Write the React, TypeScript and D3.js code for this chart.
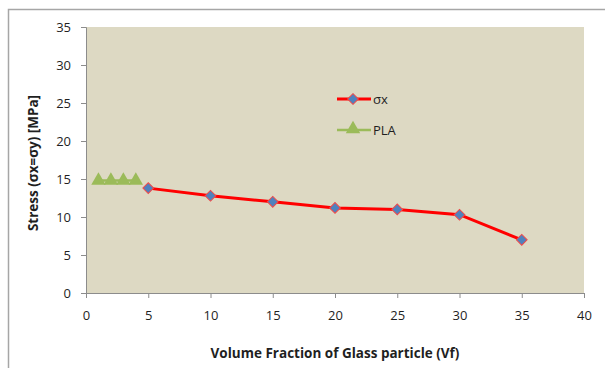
import React, { useRef, useEffect } from "react";
import * as d3 from "d3";

const sigmaX = [5, 10, 15, 20, 25, 30, 35];
const sigmaY = [13.8, 12.8, 12.0, 11.2, 11.0, 10.3, 7.0];
const plaX = [1, 2, 3, 4];
const plaY = [14.8, 14.8, 14.8, 14.8];
const xTicks = [0, 5, 10, 15, 20, 25, 30, 35, 40];
const yTicks = [0, 5, 10, 15, 20, 25, 30, 35];

const font = "'Open Sans', sans-serif";

const App = () => {
    const svgRef = useRef<SVGSVGElement>(null);

    useEffect(() => {
        const svg = d3.select(svgRef.current);
        svg.selectAll("*").remove();

        const left = 86, right = 584, top = 27, bottom = 293;
        const x = d3.scaleLinear().domain([0, 40]).range([left, right]);
        const y = d3.scaleLinear().domain([0, 35]).range([bottom, top]);

        // outer frame (only top and left visible)
        svg.append("path")
            .attr("d", "M8.5,368 L8.5,9.5 L605,9.5")
            .attr("fill", "none")
            .attr("stroke", "#a6a6a6")
            .attr("stroke-width", 1.5);

        svg.append("rect")
            .attr("x", left).attr("y", top)
            .attr("width", right - left).attr("height", bottom - top)
            .attr("fill", "#ddd9c3");

        const xAxis = d3.axisBottom(x).tickValues(xTicks).tickSize(5).tickPadding(13);
        svg.append("g")
            .attr("transform", `translate(0,${bottom})`)
            .call(xAxis)
            .call(g => g.select(".domain").attr("stroke", "#8c8c8c"))
            .call(g => g.selectAll(".tick line").attr("stroke", "#8c8c8c"))
            .call(g => g.selectAll("text")
                .attr("font-family", font).attr("font-size", 13).attr("fill", "#1f1f1f"));

        const yAxis = d3.axisLeft(y).tickValues(yTicks).tickSize(5).tickPadding(10);
        svg.append("g")
            .attr("transform", `translate(${left},0)`)
            .call(yAxis)
            .call(g => g.select(".domain").attr("stroke", "#8c8c8c"))
            .call(g => g.selectAll(".tick line").attr("stroke", "#8c8c8c"))
            .call(g => g.selectAll("text")
                .attr("font-family", font).attr("font-size", 13).attr("fill", "#1f1f1f"));

        // PLA series
        const plaLine = d3.line<number>()
            .x((d, i) => x(plaX[i]))
            .y(d => y(d));
        svg.append("path")
            .datum(plaY)
            .attr("d", plaLine)
            .attr("fill", "none")
            .attr("stroke", "#9bbb59")
            .attr("stroke-width", 2.5);
        const tri = d3.symbol().type(d3.symbolTriangle).size(90);
        svg.selectAll(".pla")
            .data(plaY)
            .join("path")
            .attr("class", "pla")
            .attr("d", tri)
            .attr("transform", (d, i) => `translate(${x(plaX[i])},${y(d)})`)
            .attr("fill", "#9bbb59");

        // sigma x series
        const sLine = d3.line<number>()
            .x((d, i) => x(sigmaX[i]))
            .y(d => y(d));
        svg.append("path")
            .datum(sigmaY)
            .attr("d", sLine)
            .attr("fill", "none")
            .attr("stroke", "#ff0000")
            .attr("stroke-width", 3);
        const dia = d3.symbol().type(d3.symbolSquare).size(58);
        svg.selectAll(".sx")
            .data(sigmaY)
            .join("path")
            .attr("class", "sx")
            .attr("d", dia)
            .attr("transform", (d, i) => `translate(${x(sigmaX[i])},${y(d)}) rotate(45)`)
            .attr("fill", "#4f81bd")
            .attr("stroke", "#f04a4a")
            .attr("stroke-width", 1);

        // legend
        const lg = svg.append("g");
        lg.append("line").attr("x1", 337).attr("x2", 371).attr("y1", 99).attr("y2", 99)
            .attr("stroke", "#ff0000").attr("stroke-width", 3);
        lg.append("path").attr("d", dia).attr("transform", "translate(353,99) rotate(45)")
            .attr("fill", "#4f81bd").attr("stroke", "#f04a4a");
        lg.append("text").attr("x", 373).attr("y", 104).text("σx")
            .attr("font-family", font).attr("font-size", 13).attr("fill", "#1f1f1f");
        lg.append("line").attr("x1", 337).attr("x2", 371).attr("y1", 130).attr("y2", 130)
            .attr("stroke", "#9bbb59").attr("stroke-width", 2.5);
        lg.append("path").attr("d", tri).attr("transform", "translate(353,129)")
            .attr("fill", "#9bbb59");
        lg.append("text").attr("x", 373).attr("y", 135).text("PLA")
            .attr("font-family", font).attr("font-size", 13).attr("fill", "#1f1f1f");

        // axis titles
        svg.append("text")
            .attr("x", 335).attr("y", 358)
            .attr("text-anchor", "middle")
            .attr("font-family", font).attr("font-size", 13.5).attr("font-weight", "bold")
            .attr("fill", "#1f1f1f")
            .text("Volume Fraction of Glass particle (Vf)");
        svg.append("text")
            .attr("transform", "translate(38,163) rotate(-90)")
            .attr("text-anchor", "middle")
            .attr("font-family", font).attr("font-size", 13.5).attr("font-weight", "bold")
            .attr("fill", "#1f1f1f")
            .text("Stress (σx=σy) [MPa]");
    }, []);

    return (
        <svg ref={svgRef} width={605} height={368}
            style={{ position: "absolute", left: 0, top: 0, display: "block", background: "#fff" }} />
    );
};

export default App;
